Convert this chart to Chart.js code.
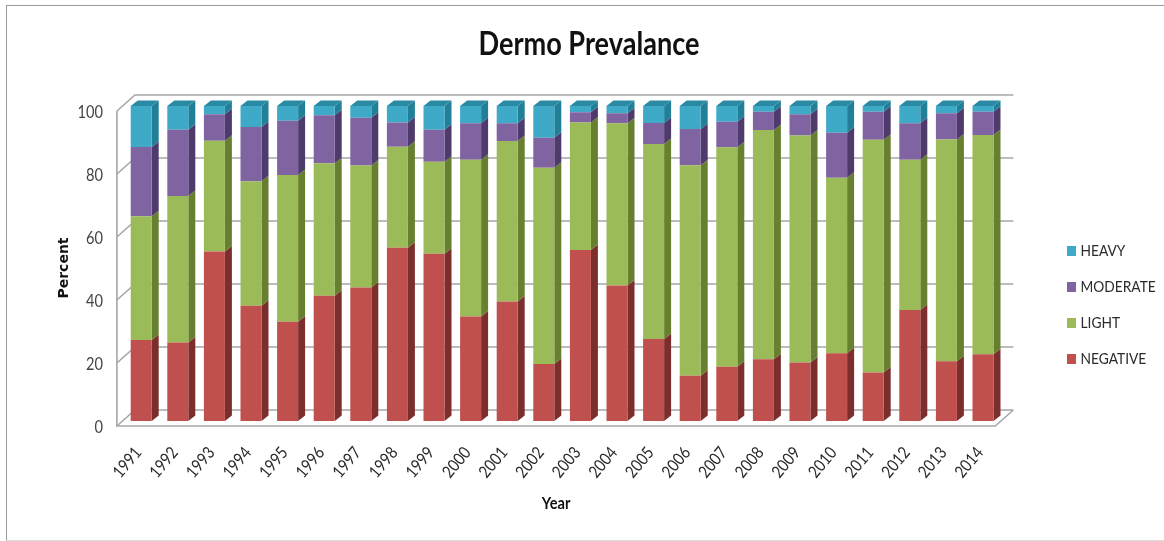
<!DOCTYPE html>
<html>
<head>
<meta charset="utf-8">
<style>
html,body{margin:0;padding:0;background:#fff;overflow:hidden}
#wrap{position:relative;width:1164px;height:541px}
canvas{display:block;filter:blur(0.45px)}
#frame{position:absolute;left:6px;top:5px;right:-5px;bottom:0;border-left:1.5px solid #9a9a9a;border-top:1.5px solid #9a9a9a;border-bottom:1px solid #dcdcdc;pointer-events:none}
</style>
<script src="https://cdn.jsdelivr.net/npm/chart.js@4"></script>
</head>
<body>
<div id="wrap"><canvas id="c" width="1164" height="541"></canvas><div id="frame"></div></div>
<script>
const years = ['1991','1992','1993','1994','1995','1996','1997','1998','1999','2000','2001','2002','2003','2004','2005','2006','2007','2008','2009','2010','2011','2012','2013','2014'];
const negative = [25.7,24.9,53.8,36.6,31.5,39.8,42.4,55.0,53.1,33.2,37.9,18.1,54.3,43.0,26.0,14.4,17.2,19.6,18.6,21.5,15.4,35.2,19.0,21.2];
const light    = [39.3,46.5,35.2,39.5,46.6,42.0,38.7,32.1,29.2,49.7,51.0,62.3,40.5,51.5,61.9,66.8,69.7,72.8,72.0,55.7,73.9,47.7,70.4,69.6];
const moderate = [22.0,21.1,8.4,17.2,17.2,15.3,15.2,7.7,10.2,11.6,5.6,9.5,3.2,3.2,6.7,11.5,8.1,5.8,6.8,14.3,8.9,11.6,8.3,7.4];
const heavy    = [13.0,7.5,2.6,6.7,4.7,2.9,3.7,5.2,7.5,5.5,5.5,10.1,2.0,2.3,5.4,7.3,5.0,1.8,2.6,8.5,1.8,5.5,2.3,1.8];
const yTicks = [0,20,40,60,80,100];

const FONT = 'Lato,"Liberation Sans",sans-serif';
const SIDE = {NEGATIVE:'#7c2e2c',LIGHT:'#66802f',MODERATE:'#4e3a6b',HEAVY:'#217f98'};
const CAP = '#2a8aa4';
const DX = 7, DY = 5.5;            // bar depth
const BACK_DX = 12, BACK_DY = -11; // back wall from bar plane
const FRONT_DX = -6, FRONT_DY = 5; // front edge from bar plane
const CONDENSE = 0.86;

const canvas = document.getElementById('c');
const rawCtx = canvas.getContext('2d');
const rawFillText = rawCtx.fillText;
rawCtx.fillText = function(t,x,y){
  if(this.font.indexOf('DejaVu') >= 0){ return rawFillText.call(this,t,x,y); }
  this.save();
  this.translate(x,y);
  this.scale(CONDENSE,1);
  rawFillText.call(this,t,0,0);
  this.restore();
};

function swatch(color){
  const c = document.createElement('canvas');
  c.width = 9; c.height = 10;
  const g = c.getContext('2d');
  g.fillStyle = color; g.fillRect(0,0,9,10);
  return c;
}
function nudge(o, method, dx, dy){
  const f = o[method];
  o[method] = function(){
    const g = this.ctx; g.save(); g.translate(dx,dy);
    const r = f.apply(this, arguments); g.restore(); return r;
  };
}

const depthPlugin = {
  id:'depth',
  beforeLayout(chart){
    const lg = chart.legend;
    if(lg && !lg._wrapped){
      lg._wrapped = true;
      const fit = lg.fit;
      lg.fit = function(){ fit.call(this); this.width = 162.7; };
    }
  },
  afterLayout(chart){
    const lg = chart.legend;
    lg.left = 1050.5; lg.right = lg.left + 110; lg.top = 223;
    if(!chart._nudged){
      chart._nudged = true;
      nudge(chart.titleBlock,'draw',7,0);
      nudge(chart.scales.x,'drawTitle',-6,0);
      nudge(chart.scales.y,'drawTitle',0,4.5);
    }
  },
  beforeDatasetsDraw(chart){
    const {ctx, scales:{x,y}} = chart;
    const L = x.left, R = x.right;
    ctx.save();
    // back wall and left wall
    ctx.strokeStyle = '#a6a6a6'; ctx.lineWidth = 1.6;
    yTicks.forEach(v=>{
      const p = y.getPixelForValue(v);
      ctx.beginPath();
      ctx.moveTo(L+FRONT_DX, p+FRONT_DY);
      ctx.lineTo(L+BACK_DX, p+BACK_DY);
      ctx.lineTo(R+BACK_DX, p+BACK_DY);
      ctx.stroke();
    });
    const p0 = y.getPixelForValue(0), p100 = y.getPixelForValue(100);
    ctx.beginPath();
    ctx.moveTo(L+FRONT_DX, p100+FRONT_DY); ctx.lineTo(L+FRONT_DX, p0+FRONT_DY);
    ctx.lineTo(R-6, p0+FRONT_DY); ctx.lineTo(R+BACK_DX, p0+BACK_DY);
    ctx.stroke();
    // bar sides and top cap
    chart.data.datasets.forEach((ds,di)=>{
      chart.getDatasetMeta(di).data.forEach(b=>{
        const r = b.x + b.width/2, l = b.x - b.width/2;
        ctx.fillStyle = SIDE[ds.label];
        ctx.beginPath();
        ctx.moveTo(r,b.y); ctx.lineTo(r+DX,b.y-DY); ctx.lineTo(r+DX,b.base-DY); ctx.lineTo(r,b.base);
        ctx.closePath(); ctx.fill();
        if(di === chart.data.datasets.length-1){
          ctx.fillStyle = CAP;
          ctx.beginPath();
          ctx.moveTo(l,b.y); ctx.lineTo(l+DX,b.y-DY); ctx.lineTo(r+DX,b.y-DY); ctx.lineTo(r,b.y);
          ctx.closePath(); ctx.fill();
        }
      });
    });
    ctx.restore();
  }
};

new Chart(canvas,{
  type:'bar',
  plugins:[depthPlugin],
  data:{
    labels:years,
    datasets:[
      {label:'NEGATIVE',data:negative,backgroundColor:'#c0504d'},
      {label:'LIGHT',data:light,backgroundColor:'#9bbb59'},
      {label:'MODERATE',data:moderate,backgroundColor:'#8064a2'},
      {label:'HEAVY',data:heavy,backgroundColor:'#3fa9c8'}
    ]
  },
  options:{
    responsive:false,
    animation:false,
    layout:{padding:0},
    categoryPercentage:0.5738,
    barPercentage:1,
    plugins:{
      tooltip:{enabled:false},
      title:{
        display:true,text:'Dermo Prevalance',color:'#111',
        font:{family:FONT,size:31.5,weight:'bold',lineHeight:1.2},
        padding:{top:26,bottom:42.2}
      },
      legend:{
        display:true,position:'right',align:'start',reverse:true,
        labels:{
          color:'#2b2b2b',font:{family:FONT,size:16,lineHeight:1.2},
          padding:20,boxWidth:9,boxHeight:10,usePointStyle:true,pointStyleWidth:2,
          generateLabels(chart){
            return Chart.defaults.plugins.legend.labels.generateLabels(chart)
              .map(it=>Object.assign(it,{pointStyle:swatch(it.fillStyle)}));
          }
        }
      }
    },
    scales:{
      x:{
        stacked:true,
        afterFit(s){s.height=120;},
        grid:{display:false,drawTicks:false},
        border:{display:false},
        ticks:{color:'#2b2b2b',font:{family:FONT,size:17},minRotation:50,maxRotation:50,padding:22,labelOffset:-3,autoSkip:false},
        title:{display:true,text:'Year',color:'#111',font:{family:FONT,size:17,weight:'bold',lineHeight:1.2},padding:{top:0,bottom:26.8}}
      },
      y:{
        stacked:true,min:0,max:100,
        afterFit(s){s.width=122.9;},
        afterBuildTicks(s){s.ticks=yTicks.map(v=>({value:v}));},
        grid:{display:false,drawTicks:false},
        border:{display:false},
        ticks:{color:'#444',font:{family:FONT,size:17},padding:20,labelOffset:6.5},
        title:{display:true,text:'Percent',color:'#111',font:{family:'"DejaVu Sans",sans-serif',size:14,weight:'bold',lineHeight:1.2},padding:{top:55.6,bottom:0}}
      }
    }
  }
});
</script>
</body>
</html>
